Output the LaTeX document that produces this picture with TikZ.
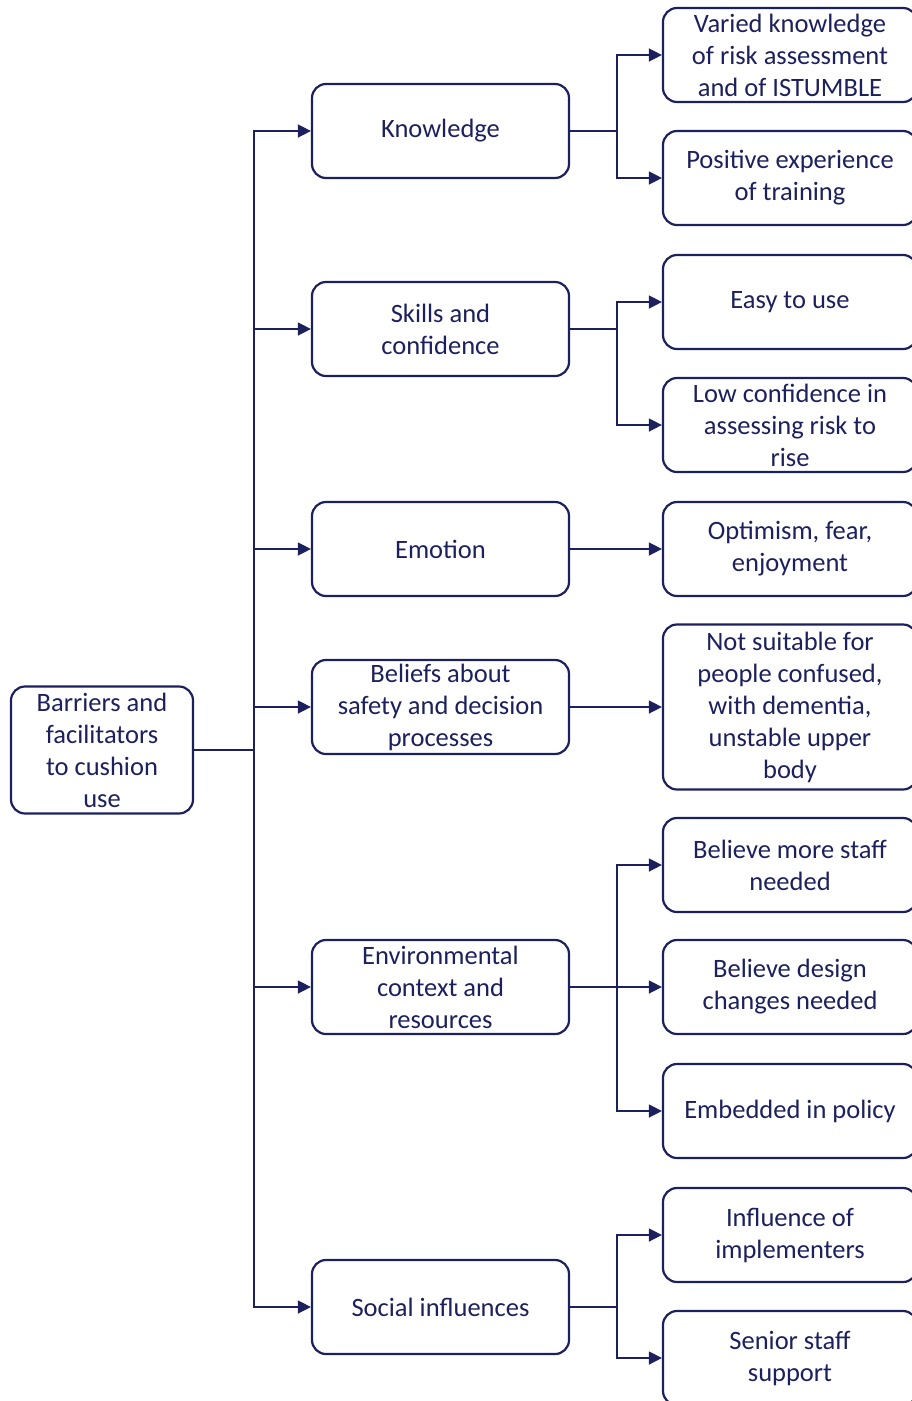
\documentclass[tikz,border=0pt]{standalone}
\usepackage{fontspec}
\setmainfont{Carlito}
\usepackage{tikz}
\usetikzlibrary{arrows.meta}
\definecolor{navy}{RGB}{28,32,92}
\tikzset{
	box/.style={shape=rectangle, rounded corners=14pt, draw=navy, line width=2.2pt, text=navy, align=center, inner sep=0pt, minimum height=94pt},
	mid/.style={box, minimum width=257pt},
	leaf/.style={box, minimum width=254pt},
	link/.style={draw=navy, line width=1.4pt},
	arr/.style={link, -{Triangle[length=13pt,width=13pt]}},
}

\begin{document}
\begin{tikzpicture}[x=1pt, y=-1pt, font=\fontsize{26.5}{32}\selectfont]
			\useasboundingbox (0,0) rectangle (912,1401);
			\node[box, minimum width=182pt, minimum height=127pt] (R) at (102,750) {Barriers and\\facilitators\\to cushion\\use};
			
			\node[mid] (K) at (440.5,131) {Knowledge};
			\node[mid] (S) at (440.5,329) {Skills and\\confidence};
			\node[mid] (E) at (440.5,549) {Emotion};
			\node[mid] (B) at (440.5,707) {Beliefs about\\safety and decision\\processes};
			\node[mid] (C) at (440.5,987) {Environmental\\context and\\resources};
			\node[mid] (I) at (440.5,1307) {Social influences};
			
			\node[leaf] (K1) at (790,55) {Varied knowledge\\of risk assessment\\and of ISTUMBLE};
			\node[leaf] (K2) at (790,178) {Positive experience\\of training};
			\node[leaf] (S1) at (790,302) {Easy to use};
			\node[leaf] (S2) at (790,425) {Low confidence in\\assessing risk to\\rise};
			\node[leaf] (E1) at (790,549) {Optimism, fear,\\enjoyment};
			\node[leaf, minimum height=165pt] (B1) at (790,707) {Not suitable for\\people confused,\\with dementia,\\unstable upper\\body};
			\node[leaf] (C1) at (790,865) {Believe more staff\\needed};
			\node[leaf] (C2) at (790,987) {Believe design\\changes needed};
			\node[leaf] (C3) at (790,1111) {Embedded in policy};
			\node[leaf] (I1) at (790,1235) {Influence of\\implementers};
			\node[leaf] (I2) at (790,1358) {Senior staff\\support};
			
			% trunk
			\coordinate (T) at (254,750);
			\draw[link] (R.east) -- (T);
			\foreach \m in {K,S,E,B,C,I}
				\draw[arr] (T) |- (\m.west);
			
			% branches
			\coordinate (tK) at (617,131);
			\coordinate (tS) at (617,329);
			\coordinate (tC) at (617,987);
			\coordinate (tI) at (617,1307);
			\draw[link] (K.east) -- (tK);
			\draw[arr] (tK) |- (K1.west);
			\draw[arr] (tK) |- (K2.west);
			\draw[link] (S.east) -- (tS);
			\draw[arr] (tS) |- (S1.west);
			\draw[arr] (tS) |- (S2.west);
			\draw[arr] (E.east) -- (E1.west);
			\draw[arr] (B.east) -- (B1.west);
			\draw[link] (C.east) -- (tC);
			\draw[arr] (tC) |- (C1.west);
			\draw[arr] (tC) -- (C2.west);
			\draw[arr] (tC) |- (C3.west);
			\draw[link] (I.east) -- (tI);
			\draw[arr] (tI) |- (I1.west);
			\draw[arr] (tI) |- (I2.west);
\end{tikzpicture}
\end{document}
